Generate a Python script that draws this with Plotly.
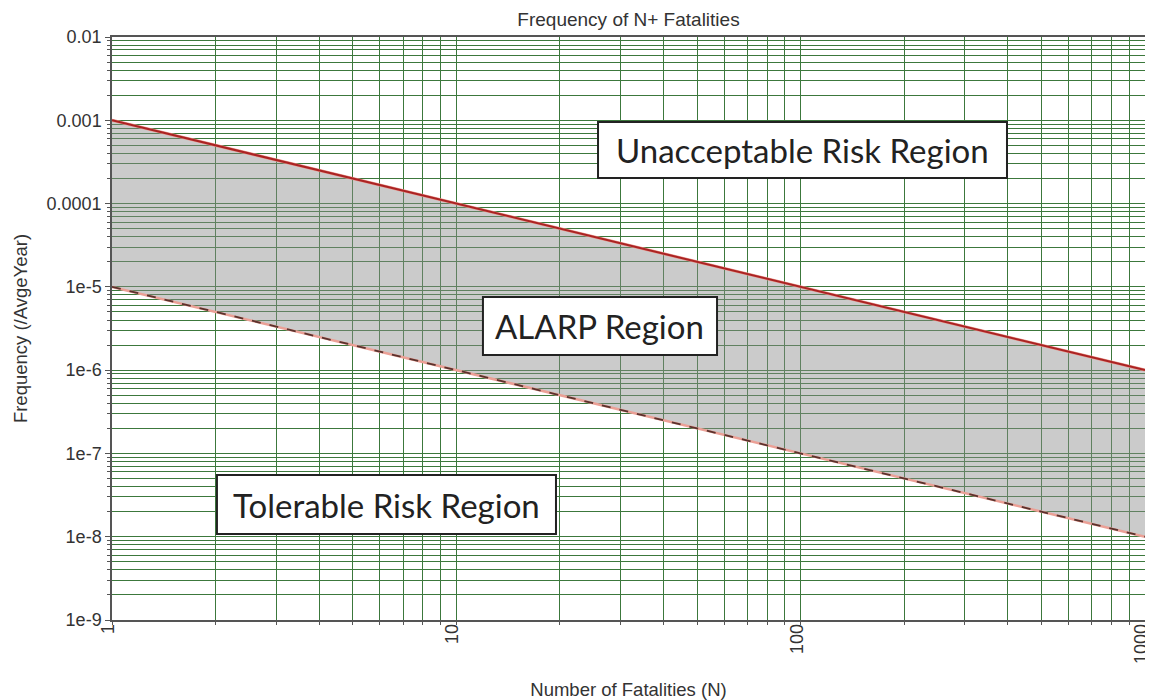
import plotly.graph_objects as go

# ---- data ----
fatalities_n = [1, 10, 100, 1000]
upper_criterion = [1e-3, 1e-4, 1e-5, 1e-6]   # unacceptable boundary
lower_criterion = [1e-5, 1e-6, 1e-7, 1e-8]   # tolerable boundary

x_tick_vals = [1, 10, 100, 1000]
x_tick_text = ["1", "10", "100", "1000"]
y_tick_vals = [1e-9, 1e-8, 1e-7, 1e-6, 1e-5, 1e-4, 1e-3, 1e-2]
y_tick_text = ["1e-9", "1e-8", "1e-7", "1e-6", "1e-5", "0.0001", "0.001", "0.01"]

region_labels = ["Unacceptable Risk Region", "ALARP Region", "Tolerable Risk Region"]

# minor grid values (2..9 per decade)
x_minor = [m * 10 ** e for e in range(0, 3) for m in range(2, 10)]
y_minor = [m * 10 ** e for e in range(-9, -2) for m in range(2, 10)]

GRID = "rgb(60,120,60)"
AXIS_FONT = dict(family="Liberation Sans, Arial, sans-serif", size=18, color="#333")
TITLE_FONT = dict(family="Liberation Sans, Arial, sans-serif", size=18.5, color="#333")

fig = go.Figure()

# lower boundary (fill base)
fig.add_trace(go.Scatter(x=fatalities_n, y=lower_criterion, mode="lines",
                         line=dict(color="rgb(235,160,150)", width=2.5),
                         showlegend=False, hoverinfo="skip"))
# upper boundary with fill down to lower
fig.add_trace(go.Scatter(x=fatalities_n, y=upper_criterion, mode="lines",
                         line=dict(color="rgb(235,150,140)", width=3),
                         fill="tonexty", fillcolor="rgba(140,140,140,0.45)",
                         showlegend=False, hoverinfo="skip"))
# redraw lines on top
fig.add_trace(go.Scatter(x=fatalities_n, y=lower_criterion, mode="lines",
                         line=dict(color="rgb(90,50,45)", width=1.8, dash="dash"),
                         showlegend=False))
fig.add_trace(go.Scatter(x=fatalities_n, y=upper_criterion, mode="lines",
                         line=dict(color="rgb(170,35,35)", width=2),
                         showlegend=False))

fig.update_xaxes(
    type="log", range=[0, 3],
    tickmode="array", tickvals=x_tick_vals, ticktext=x_tick_text, tickangle=-90,
    ticks="outside", ticklen=3, tickcolor="#555",
    showgrid=True, gridcolor=GRID, gridwidth=1,
    minor=dict(tickmode="array", tickvals=x_minor, showgrid=True, gridcolor=GRID,
               gridwidth=1, ticks="outside", ticklen=3, tickcolor="#555"),
    showline=True, linecolor="#555", linewidth=1.5, mirror=True,
    tickfont=AXIS_FONT, zeroline=False, ticklabeloverflow="allow",
    ticklabelstandoff=-8, ticklabelshift=-4,
    title=dict(text="Number of Fatalities (N)", font=TITLE_FONT, standoff=28),
    automargin=False,
)
fig.update_yaxes(
    type="log", range=[-9, -2],
    tickmode="array", tickvals=y_tick_vals, ticktext=y_tick_text,
    ticks="outside", ticklen=5, tickcolor="#555",
    showgrid=True, gridcolor=GRID, gridwidth=1,
    minor=dict(tickmode="array", tickvals=y_minor, showgrid=True, gridcolor=GRID,
               gridwidth=1, ticks="outside", ticklen=3, tickcolor="#555"),
    showline=True, linecolor="#555", linewidth=1.5, mirror=True,
    tickfont=AXIS_FONT, zeroline=False,
    title=dict(text="Frequency (/AvgeYear)", font=TITLE_FONT, standoff=14),
    automargin=False,
)

# region label boxes (paper coords)
boxes = [
    (0.4705, 0.8664, 0.7581, 0.8542),
    (0.3591, 0.5857, 0.4545, 0.5540),
    (0.1016, 0.4298, 0.1475, 0.2487),
]
for (x0, x1, y0, y1), label in zip(boxes, region_labels):
    fig.add_shape(type="rect", xref="paper", yref="paper", x0=x0, x1=x1, y0=y0, y1=y1,
                  line=dict(color="#222", width=2), fillcolor="white", layer="above")
    fig.add_annotation(xref="paper", yref="paper", x=(x0 + x1) / 2, y=(y0 + y1) / 2,
                       text=label, showarrow=False, xanchor="center", yanchor="middle",
                       font=dict(family="Lato, Carlito, sans-serif", size=33, color="#222"))

# page has an 8px body margin: figure is sized/margined so the plot area lands
# at x 112..1145, y 37..620 in the 1153x700 window
fig.update_layout(
    width=1153, height=692,
    margin=dict(l=104, r=16, t=29, b=80),
    paper_bgcolor="white", plot_bgcolor="white",
    title=dict(text="Frequency of N+ Fatalities", x=0.5, xref="paper",
               y=1 - 11 / 692, yref="container", yanchor="middle",
               font=dict(family="Liberation Sans, Arial, sans-serif", size=19, color="#333")),
    showlegend=False,
)

fig.write_html("out.html")
